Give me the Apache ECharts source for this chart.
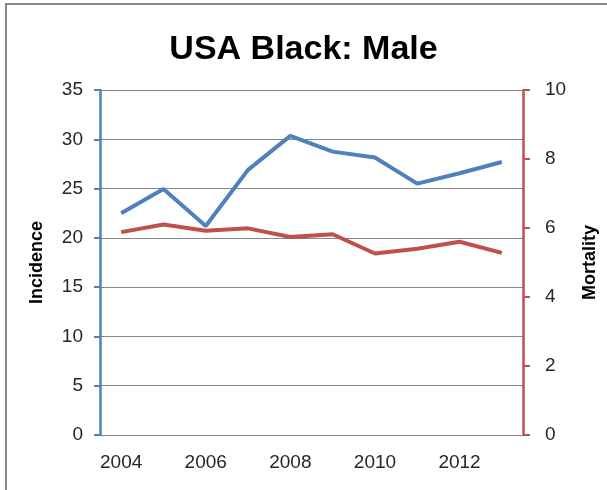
<!DOCTYPE html>
<html>
<head>
<meta charset="utf-8">
<script src="https://cdn.jsdelivr.net/npm/echarts@6/dist/echarts.min.js"></script>
<style>
html,body{margin:0;padding:0;background:#fff;}
#c{width:607px;height:490px;}
</style>
</head>
<body>
<div id="c"></div>
<script>
const titleText = 'USA Black: Male';
const years = ['2004','2005','2006','2007','2008','2009','2010','2011','2012','2013'];
const incidence = [22.5, 24.95, 21.2, 26.9, 30.35, 28.75, 28.15, 25.5, 26.55, 27.7];
const mortality = [5.88, 6.10, 5.92, 5.99, 5.74, 5.82, 5.26, 5.40, 5.60, 5.28];
const leftName = 'Incidence';
const rightName = 'Mortality';

const chart = echarts.init(document.getElementById('c'), null, {renderer:'canvas'});
const labelFont = {fontFamily:'Liberation Sans, Arial, sans-serif', fontSize:19, color:'#262626'};
chart.setOption({
  animation:false,
  backgroundColor:'#fff',
  graphic:[{type:'rect', shape:{x:6, y:4, width:800, height:700}, style:{fill:'none', stroke:'#888', lineWidth:2}, silent:true}],
  title:{text:titleText, left:'center', top:28,
    textStyle:{fontFamily:'Liberation Sans, Arial, sans-serif', fontWeight:'bold', fontSize:34, color:'#000'}},
  grid:{left:100, right:83, top:90, bottom:55, containLabel:false},
  xAxis:{type:'category', data:years, boundaryGap:true,
    axisLine:{lineStyle:{color:'#868686', width:1}},
    axisTick:{interval:0, length:8, lineStyle:{color:'#868686'}},
    axisLabel:Object.assign({interval:1, margin:18}, labelFont)},
  yAxis:[
    {type:'value', min:0, max:35, interval:5, position:'left',
     name:leftName, nameLocation:'middle', nameGap:54, nameRotate:90,
     nameTextStyle:{fontFamily:'Liberation Sans, Arial, sans-serif', fontWeight:'bold', fontSize:18, color:'#000'},
     axisLine:{show:true, lineStyle:{color:'#4F81BD', width:2.5}},
     axisTick:{show:true, length:6, lineStyle:{color:'#4F81BD', width:2}},
     splitLine:{show:true, lineStyle:{color:'#868686', width:1}},
     axisLabel:Object.assign({margin:17}, labelFont)},
    {type:'value', min:0, max:10, interval:2, position:'right',
     name:rightName, nameLocation:'middle', nameGap:58, nameRotate:90,
     nameTextStyle:{fontFamily:'Liberation Sans, Arial, sans-serif', fontWeight:'bold', fontSize:18, color:'#000'},
     axisLine:{show:true, lineStyle:{color:'#C0504D', width:2.5}},
     axisTick:{show:true, length:7, lineStyle:{color:'#C0504D', width:2}},
     splitLine:{show:false},
     axisLabel:Object.assign({margin:22}, labelFont)}
  ],
  series:[
    {type:'line', name:leftName, yAxisIndex:0, data:incidence, symbol:'none', smooth:false,
     lineStyle:{color:'#4F81BD', width:4}, itemStyle:{color:'#4F81BD'}},
    {type:'line', name:rightName, yAxisIndex:1, data:mortality, symbol:'none', smooth:false,
     lineStyle:{color:'#C0504D', width:4}, itemStyle:{color:'#C0504D'}}
  ]
});
</script>
</body>
</html>
